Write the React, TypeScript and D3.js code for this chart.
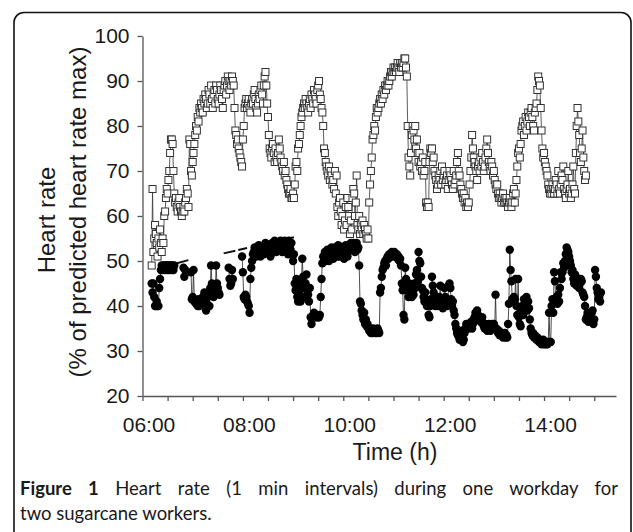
import { useEffect, useRef } from 'react'
import * as d3 from 'd3'

// minutes after 06:00 of the first reading, one value per minute
const upperStart = 11
const upperValues = [
  49, 66, 52, 55, 58, 56, 54, 51, 55, 53,
  57, 54, 52, 55, 54, 60, 61, 64, 66, 65,
  68, 70, 74, 77, 77, 76, 70, 65, 63, 64,
  62, 61, 63, 64, 62, 61, 60, 61, 62, 61,
  63, 64, 66, 65, 62, 77, 76, 70, 69, 72,
  74, 76, 78, 80, 79, 82, 81, 84, 83, 85,
  84, 83, 86, 85, 87, 86, 84, 85, 88, 87,
  85, 89, 86, 84, 87, 88, 85, 89, 88, 86,
  85, 87, 89, 88, 86, 84, 88, 89, 90, 87,
  89, 91, 90, 88, 90, 89, 91, 90, 89, 84,
  79, 78, 76, 77, 75, 74, 73, 72, 71, 77,
  80, 84, 85, 86, 84, 85, 86, 84, 83, 85,
  86, 85, 87, 88, 86, 84, 83, 85, 87, 86,
  88, 89, 87, 85, 89, 91, 92, 89, 85, 82,
  78, 75, 74, 73, 75, 76, 74, 72, 75, 73,
  72, 74, 77, 75, 73, 72, 71, 70, 72, 69,
  70, 68, 67, 66, 65, 65, 66, 64, 64, 65,
  64, 67, 71, 72, 70, 75, 76, 78, 80, 82,
  83, 84, 85, 84, 86, 85, 84, 83, 85, 86,
  84, 87, 86, 85, 88, 87, 86, 85, 88, 89,
  90, 87, 86, 84, 83, 80, 75, 74, 72, 71,
  70, 69, 71, 68, 70, 69, 67, 68, 66, 70,
  65, 69, 62, 60, 63, 64, 61, 58, 60, 63,
  57, 59, 62, 58, 64, 62, 60, 56, 59, 57,
  64, 66, 65, 60, 63, 69, 58, 57, 60, 56,
  58, 57, 59, 56, 58, 57, 56, 55, 57, 55,
  63, 67, 70, 73, 77, 78, 80, 79, 82, 84,
  83, 84, 85, 86, 85, 87, 86, 88, 87, 89,
  88, 89, 90, 89, 90, 91, 92, 91, 92, 93,
  92, 93, 92, 93, 94, 93, 92, 94, 93, 94,
  93, 94, 95, 95, 93, 91, 80, 73,
  71, 69, 74, 78, 80, 79, 77, 80, 75, 77, 74, 72,
  74, 71, 72, 70, 73, 69, 70, 72, 63, 62, 63, 62,
  72, 75, 74, 75, 72, 73, 70, 69, 68, 66, 67, 69,
  68, 70, 67, 71, 68, 69, 70, 67, 68, 69, 66, 68,
  70, 69, 68, 67, 66, 70, 67, 68, 69, 72, 74, 70,
  69, 67, 66, 65, 64, 65, 63, 64, 62, 63, 62, 63,
  67, 70, 73, 78, 75, 73, 72, 71, 70, 68, 71, 72,
  70, 73, 71, 74, 72, 70, 71, 73, 75, 77, 74, 72,
  71, 70, 72, 71, 69, 70, 68, 67, 66, 67, 65, 64,
  65, 64, 63, 64, 65, 63, 64, 63, 64, 63, 62, 63,
  64, 63, 62, 63, 65, 66, 63, 65, 68, 71, 74, 75,
  73, 76, 79, 80, 81, 78, 80, 82, 79, 81, 83, 82,
  80, 83, 84, 82, 80, 79, 83, 84, 85, 88, 91, 90,
  89, 84, 79, 75, 73, 74, 72, 71, 70, 69, 67, 66,
  65, 66, 65, 67, 66, 65, 66, 68, 67, 65, 70, 66,
  65, 67, 69, 68, 71, 66, 65, 64, 66, 67, 70, 65,
  66, 64, 65, 67, 71, 66, 65, 74, 80, 84,
  81, 78, 74, 72, 75, 79, 73, 70, 68, 69,
]

const lowerStart = 11
const lowerValues = [
  45, 43, 45, 42, 40, 40, 41, 40, 40, 44,
  46, 48, 49, 48, 49, 49, 48, 49, 49, 48,
  49, 48, 49, 49, 48, 49, 48, 49, null, null,
  null, null, null, null, null, null, null, null,
  48.5, 46.5, 48,
  null, null, null, null, null, null,
  47.5, 41.5, 42, 48, 41, 41, 40.5, 41, 40, 41.5, 40, 41, 40.5,
  41, 42, 41, 43, 42, 39, 40.5, 42, 43, 40, 44, 49, 45, 43,
  42, 44, 43, 49, 45, 44, 43, 42.5,
  null, null, null, null, null, null, null, null, null, null,
  48.5, 46, 44.5, 45, 48, 46,
  null, null, null, null, null, null, null, null, null, null,
  51, 47.5, 42, 41.5, 42.5, 42, 41, 40.5, 40, 38.5, 46, 48.5,
  50, 51.5, 52, 53, 52.5, 51, 53, 52, 53.5, 52,
  51, 52.5, 53, 52, 51.5, 53, 54, 52, 53, 52.5,
  53.5, 52, 51, 53, 54, 52.5, 53, 54.5, 53, 52,
  53.5, 54, 52.5, 54, 54.5, 53, 52, 54, 53.5, 54.5,
  53, 54, 52, 51.5, 54.5, 53, 52.5, 54, 51.5, 50,
  51.5, 45, 43.5, 46, 42, 41, 44, 42.5, 41, 45.5,
  50.5, 46.5, 44, 42, 45, 47, 43.5, 42.5, 41, 44,
  37.5, 36, 37.5, 38, 38.5, 37.5, 38, 37.5, 38, 37.5, 37.5, 38,
  42, 46, 49.5, 51, 50.5, 52, 50, 51, 52.5, 51.5, 50, 52,
  51, 53, 52, 50.5, 52, 53, 51.5, 52.5, 51, 53.5, 52, 51,
  52.5, 53, 51, 52, 50.5, 52, 53.5, 52.5, 51, 52, 53, 52.5,
  54, 53, 52.5, 54, 53.5, 52, 53, 54, 52.5, 53, 49, 41,
  40.5, 39, 38, 37, 38.5, 36, 37, 35.5, 36, 35, 34.5, 35,
  34, 34.5, 34, 35, 34.5, 34, 34.5, 34, 35, 34.5, 34, 43,
  44, 46.5, 48, 48.5, 49.5, 50, 49, 50.5, 51, 50.5, 51.5, 51,
  51.5, 52, 51, 51.5, 52, 51.5, 51, 51.5, 50.5, 51, 50, 50.5,
  49, 45, 43.5, 38, 37, 48.5, 46, 44, 43.5, 42, 45, 43.5,
  44, 42, 43.5, 42.5, 45, 44, 47, 48, 45.5, 52, 50, 49.5,
  46.5, 44, 43.5, 42, 41, 43, 41.5, 40, 41, 38, 37.5, 40,
  41.5, 46.5, 44.5, 43, 41, 40, 41.5, 40.5, 40, 41, 42, 44.5,
  41, 40, 39.5, 41.5, 44, 42, 41.5, 40, 41, 44.5, 45, 44,
  41.5, 40, 41, 39, 38, 36, 35, 34, 33.5, 34, 32.5, 33,
  34.5, 33.5, 32, 32.5, 34, 35, 36, 35.5, 36, 35, 35.5, 36,
  36.5, 35, 36, 37, 37.5, 38.5, 38, 39, 38, 37.5, 37, 36.5,
  37, 37.5, 36, 35.5, 35, 36, 35, 34.5, 35.5, 36, 35, 34.5,
  35, 36, 35.5, 36, 35, 42.5, 35, 34.5, 34, 34.5, 33.5, 34,
  33.5, 34, 33, 33.5, 34, 33, 33.5, 33, 36, 40.5, 52.5, 48,
  45.5, 41.5, 41, 42, 41.5, 46, 40, 38, 46, 37.5, 36, 35.5,
  39, 40, 38, 41.5, 40, 41, 42, 39, 41, 39.5, 37, 35,
  34, 33.5, 34, 33, 33.5, 33, 32.5, 33, 32.5, 32, 32.5, 32,
  31.5, 32, 32.5, 31.5, 32, 31.5, 32, 31.5, 32, 38.5, 32, 32,
  40, 41.5, 38.5, 47.5, 45.5, 41.5, 42, 40.5, 42.5, 41, 44, 47.5,
  46, 47.5, 49.5, 48.5, 50, 51.5, 53, 52.5, 52, 51, 50, 49,
  47.5, 48, 46, 45, 47, 46.5, 44.5, 46, 45.5, 44, 45, 46,
  45.5, 43, 42.5, 42, 40, 37, 37.5, 38.5, 36.5, 37.5, 38, 37,
  38.5, 39, 36, 37, 48, 46.5, 44, 43, 41.5, 42, 41, 43,
]

// thin connecting strokes of the lower series drawn without markers
const strokeFromMinute = [41, 97, 135]
const strokeFromValue = [49.5, 51.7, 53.4]
const strokeToMinute = [57, 125, 181]
const strokeToValue = [50.3, 52.9, 55.3]

const yTicks = [20, 30, 40, 50, 60, 70, 80, 90, 100]
const xMinorTicks = [0, 30, 60, 90, 120, 150, 180, 210, 240, 270, 300, 330, 360, 390, 420, 450, 480, 510, 540]
const xTickLabels = ['06:00', '08:00', '10:00', '12:00', '14:00']

const W = 633
const H = 532
const axisFont = '"Liberation Sans", Arial, sans-serif'
const captionFont = 'Lato, "Open Sans", sans-serif'

const App = () => {
  const ref = useRef(null)

  useEffect(() => {
    document.body.style.margin = '0'
    const svg = d3.select(ref.current)
    svg.selectAll('*').remove()

    const x = d3.scaleLinear().domain([0, 566]).range([142.5, 616])
    const y = d3.scaleLinear().domain([20, 100]).range([396, 36])

    // frame
    svg.append('rect')
      .attr('x', 14).attr('y', 12.5)
      .attr('width', 617).attr('height', 600)
      .attr('rx', 10)
      .attr('fill', 'none')
      .attr('stroke', '#111')
      .attr('stroke-width', 1.6)

    const upper = upperValues.map((v, i) => ({ m: upperStart + i, v }))
    const lower = lowerValues.map((v, i) => ({ m: lowerStart + i, v }))

    const line = d3.line()
      .defined(d => d.v != null)
      .x(d => x(d.m))
      .y(d => y(d.v))

    // upper worker: open squares
    svg.append('path')
      .datum(upper)
      .attr('d', line)
      .attr('fill', 'none')
      .attr('stroke', '#333')
      .attr('stroke-width', 0.8)

    const sq = 7
    svg.append('g').selectAll('rect')
      .data(upper)
      .enter()
      .append('rect')
      .attr('x', d => x(d.m) - sq / 2)
      .attr('y', d => y(d.v) - sq / 2)
      .attr('width', sq)
      .attr('height', sq)
      .attr('fill', '#fff')
      .attr('stroke', '#333')
      .attr('stroke-width', 1)

    // lower worker: filled circles
    svg.append('path')
      .datum(lower)
      .attr('d', line)
      .attr('fill', 'none')
      .attr('stroke', '#222')
      .attr('stroke-width', 0.8)

    svg.append('g').selectAll('line')
      .data(strokeFromMinute)
      .enter()
      .append('line')
      .attr('x1', d => x(d))
      .attr('y1', (d, i) => y(strokeFromValue[i]))
      .attr('x2', (d, i) => x(strokeToMinute[i]))
      .attr('y2', (d, i) => y(strokeToValue[i]))
      .attr('stroke', '#111')
      .attr('stroke-width', 2)
      .attr('stroke-dasharray', '12 3')

    svg.append('g').selectAll('circle')
      .data(lower.filter(d => d.v != null))
      .enter()
      .append('circle')
      .attr('cx', d => x(d.m))
      .attr('cy', d => y(d.v))
      .attr('r', 4.2)
      .attr('fill', '#000')

    // axes
    const yAxis = svg.append('g')
      .attr('transform', `translate(${x(0)},0)`)
      .call(d3.axisLeft(y).tickValues(yTicks).tickSize(5).tickSizeOuter(0).tickPadding(8))
    yAxis.selectAll('text')
      .style('font-family', axisFont)
      .style('font-size', '21px')
      .attr('fill', '#1a1a1a')

    const xAxis = svg.append('g')
      .attr('transform', `translate(0,${y(20)})`)
      .call(d3.axisBottom(x)
        .tickValues(xMinorTicks)
        .tickSize(5)
        .tickSizeOuter(0)
        .tickPadding(16)
        .tickFormat(d => (d % 120 === 0 ? xTickLabels[d / 120] : '')))
    xAxis.selectAll('text')
      .attr('dx', 6)
      .style('font-family', axisFont)
      .style('font-size', '21px')
      .attr('fill', '#1a1a1a')

    svg.selectAll('.domain, .tick line')
      .attr('stroke', '#555')
      .attr('stroke-width', 1.3)

    // axis titles
    svg.append('text')
      .attr('x', 395).attr('y', 460)
      .attr('text-anchor', 'middle')
      .style('font-family', axisFont)
      .style('font-size', '23px')
      .attr('fill', '#1a1a1a')
      .text('Time (h)')

    svg.append('text')
      .attr('transform', 'translate(55,220) rotate(-90)')
      .attr('text-anchor', 'middle')
      .style('font-family', axisFont)
      .style('font-size', '24px')
      .attr('fill', '#1a1a1a')
      .text('Heart rate')

    svg.append('text')
      .attr('transform', 'translate(86,212) rotate(-90)')
      .attr('text-anchor', 'middle')
      .style('font-family', axisFont)
      .style('font-size', '24px')
      .attr('fill', '#1a1a1a')
      .text('(% of predicted heart rate max)')

    // caption, first line justified to the frame width
    const cap1 = svg.append('text')
      .attr('x', 20).attr('y', 495)
      .style('font-family', captionFont)
      .style('font-size', '18.5px')
      .attr('fill', '#1a1a1a')
    cap1.append('tspan').attr('font-weight', 'bold').text('Figure 1')
    cap1.append('tspan').text(' Heart rate (1 min intervals) during one workday for')
    const natural = cap1.node().getComputedTextLength()
    cap1.style('word-spacing', `${Math.max(0, (598 - natural) / 10)}px`)

    svg.append('text')
      .attr('x', 20).attr('y', 520)
      .style('font-family', captionFont)
      .style('font-size', '18.5px')
      .attr('fill', '#1a1a1a')
      .text('two sugarcane workers.')
  }, [])

  return (
    <svg ref={ref} width={W} height={H} style={{ display: 'block', background: '#fff' }}></svg>
  )
}

export default App
